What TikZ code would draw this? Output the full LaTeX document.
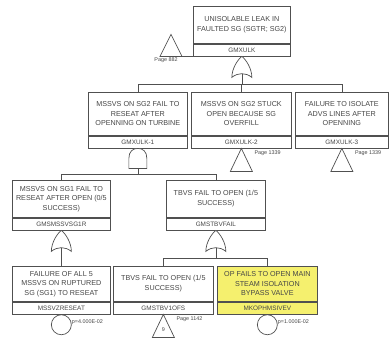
\documentclass[tikz,border=0pt]{standalone}
\usepackage{fontspec}
\setmainfont{Liberation Sans}
\definecolor{linec}{RGB}{80,80,80}
\definecolor{txtc}{RGB}{70,70,70}
\definecolor{evyellow}{RGB}{245,240,110}
\begin{document}
\begin{tikzpicture}[x=1pt,y=-1pt,
  ln/.style={draw=linec,line width=0.7pt},
  evt/.style={ln,rectangle,anchor=north west,align=center,inner sep=0.5pt,
    text=txtc,font=\fontsize{7.2}{9.6}\selectfont},
  eid/.style={ln,rectangle,anchor=north,minimum height=12pt,inner sep=0pt,
    text=txtc,font=\fontsize{6.4}{7}\selectfont},
  pg/.style={text=txtc,inner sep=0pt,font=\fontsize{5.4}{6}\selectfont},
  % OR gate, apex at the origin
  orgate/.pic={
    \draw[ln,fill=white] (-10,21) .. controls (-10,12) and (-4,3) .. (0,0)
      .. controls (4,3) and (10,12) .. (10,21)
      .. controls (4,16) and (-4,16) .. (-10,21) -- cycle;
    \coordinate (-in) at (0,0);
    \coordinate (-out) at (0,17.25);
  },
  % AND gate, apex at the origin
  andgate/.pic={
    \draw[ln,fill=white] (-9,20) -- (-9,10) .. controls (-9,3) and (-5,0) .. (0,0)
      .. controls (5,0) and (9,3) .. (9,10) -- (9,20) -- cycle;
    \coordinate (-in) at (0,0);
    \coordinate (-out) at (0,20);
  },
  % transfer triangle, apex at the origin
  xfer/.pic={
    \draw[ln,fill=white] (0,0) -- (11,23) -- (-11,23) -- cycle;
    \coordinate (-lab) at (13,5);
    \coordinate (-mid) at (0,15);
  }
]
\useasboundingbox (0,0) rectangle (390,340);

% top event
\node[evt,minimum width=97pt,minimum height=37pt] (top) at (193,6)
  {UNISOLABLE LEAK IN\\FAULTED SG (SGTR; SG2)};
\node[eid,minimum width=97pt] (topid) at (top.south) {GMXULK};
\pic (g0) at (topid.south) {orgate};
\draw[ln] (topid.south west) -- ++(-33,0) -- ++(11,-22) -- ++(11,22);
\node[pg,anchor=north] (p0) at (166,58) {Page 882};

% second level
\node[evt,minimum width=99pt,minimum height=43pt] (m1) at (88,92)
  {MSSVS ON SG2 FAIL TO\\RESEAT AFTER\\OPENNING ON TURBINE};
\node[eid,minimum width=99pt] (m1id) at (m1.south) {GMXULK-1};
\node[evt,minimum width=100pt,minimum height=43pt] (m2) at (191,92)
  {MSSVS ON SG2 STUCK\\OPEN BECAUSE SG\\OVERFILL};
\node[eid,minimum width=100pt] (m2id) at (m2.south) {GMXULK-2};
\node[evt,minimum width=93pt,minimum height=43pt] (m3) at (295,92)
  {FAILURE TO ISOLATE\\ADVS LINES AFTER\\OPENNING};
\node[eid,minimum width=93pt] (m3id) at (m3.south) {GMXULK-3};

\coordinate (bar0) at (0,84);
\draw[ln] (g0-out) -- (g0-out |- bar0);
\draw[ln] (m1.north) -- (m1.north |- bar0) -- (m3.north |- bar0) -- (m3.north);
\draw[ln] (m2.north) -- (m2.north |- bar0);

\pic (g1) at (m1id.south) {andgate};
\pic (x2) at (m2id.south) {xfer};
\pic (x3) at (m3id.south) {xfer};
\node[pg,anchor=west] (p2) at (x2-lab) {Page 1339};
\node[pg,anchor=west] (p3) at (x3-lab) {Page 1339};

% third level
\node[evt,minimum width=98pt,minimum height=37pt] (t1) at (12,180)
  {MSSVS ON SG1 FAIL TO\\RESEAT AFTER OPEN (0/5\\SUCCESS)};
\node[eid,minimum width=98pt] (t1id) at (t1.south) {GMSMSSVSG1R};
\node[evt,minimum width=99pt,minimum height=37pt] (t2) at (166,180)
  {TBVS FAIL TO OPEN (1/5\\SUCCESS)};
\node[eid,minimum width=99pt] (t2id) at (t2.south) {GMSTBVFAIL};

\coordinate (bar1) at (0,174);
\draw[ln] (g1-out) -- (g1-out |- bar1);
\draw[ln] (t1.north) -- (t1.north |- bar1) -- (t2.north |- bar1) -- (t2.north);

\pic (g2) at (t1id.south) {orgate};
\pic (g3) at (t2id.south) {orgate};

% basic events and transfers
\node[evt,minimum width=98pt,minimum height=35pt] (b1) at (12,266)
  {FAILURE OF ALL 5\\MSSVS ON RUPTURED\\SG (SG1) TO RESEAT};
\node[eid,minimum width=98pt] (b1id) at (b1.south) {MSSVZRESEAT};
\node[evt,minimum width=100pt,minimum height=35pt] (b2) at (113,266)
  {TBVS FAIL TO OPEN (1/5\\SUCCESS)};
\node[eid,minimum width=100pt] (b2id) at (b2.south) {GMSTBV1OFS};
\node[evt,fill=evyellow,minimum width=100pt,minimum height=35pt] (b3) at (217,266)
  {OP FAILS TO OPEN MAIN\\STEAM ISOLATION\\BYPASS VALVE};
\node[eid,fill=evyellow,minimum width=100pt] (b3id) at (b3.south) {MKOPHMSIVEV};

\draw[ln] (g2-out) -- (b1.north);
\coordinate (bar2) at (0,258);
\draw[ln] (g3-out) -- (g3-out |- bar2);
\draw[ln] (b2.north) -- (b2.north |- bar2) -- (b3.north |- bar2) -- (b3.north);

\node[ln,circle,minimum size=20pt,inner sep=0pt,anchor=north] (c1) at (b1id.south) {};
\node[pg,anchor=west,yshift=3pt] (q1) at (c1.east) {p=4.000E-02};
\node[ln,circle,minimum size=20pt,inner sep=0pt,anchor=north] (c3) at (b3id.south) {};
\node[pg,anchor=west,yshift=3pt] (q3) at (c3.east) {p=1.000E-02};

\pic (x4) at (b2id.south) {xfer};
\node[pg] (n4) at (x4-mid) {9};
\node[pg,anchor=west] (p4) at (x4-lab) {Page 1142};
\end{tikzpicture}
\end{document}
